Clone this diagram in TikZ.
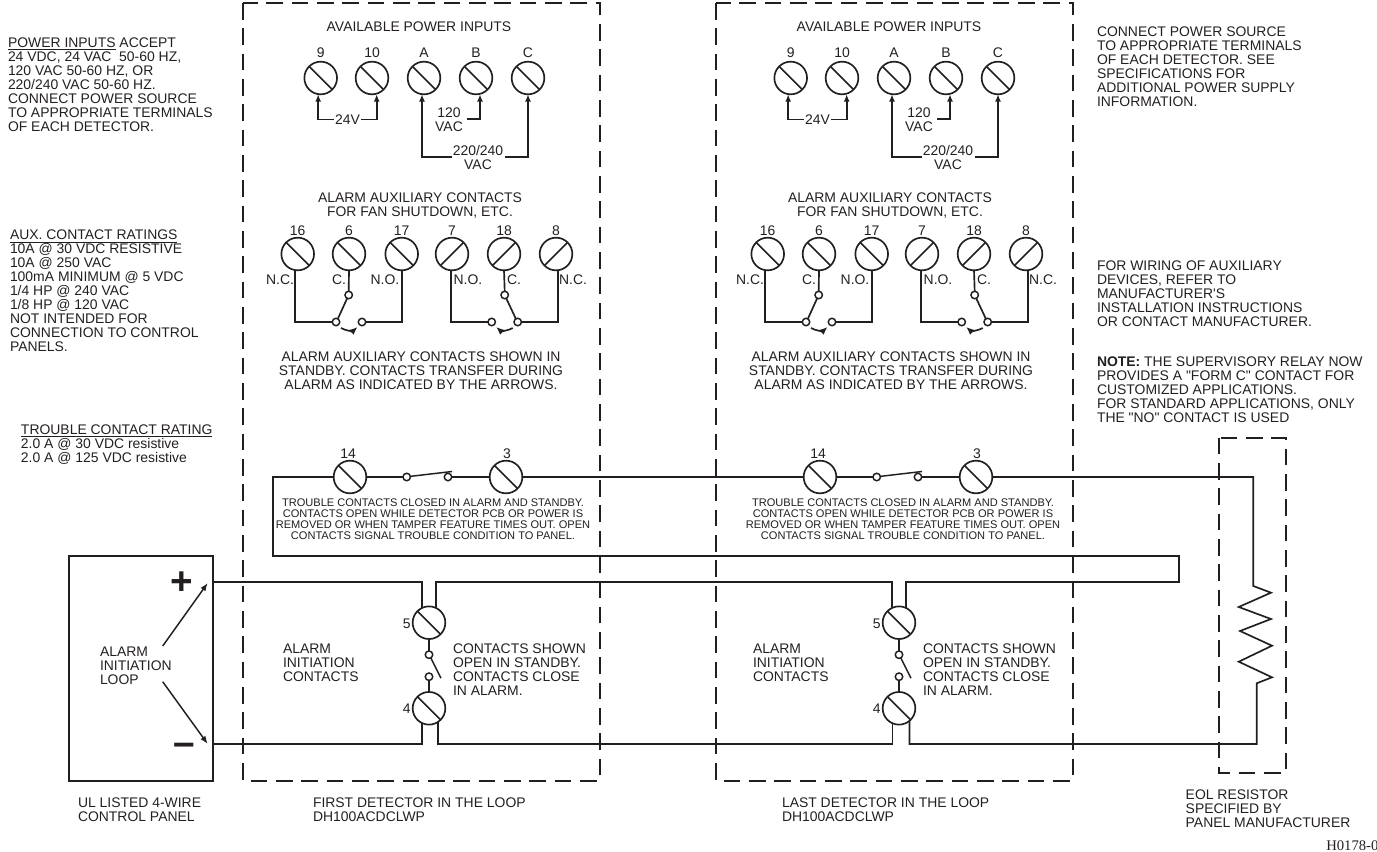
\documentclass[tikz,border=0pt]{standalone}
\usepackage{fontspec}
\setmainfont[Ligatures=TeXOff]{Liberation Sans}
\newfontfamily\serifcode{Liberation Serif}
\usetikzlibrary{arrows.meta,calc}
\definecolor{ink}{HTML}{231F20}
\lineskiplimit=-20pt
\newcommand{\fnorm}{\fontsize{10.45}{10.5}\selectfont\lineskiplimit=-20pt\relax}
\newcommand{\fsmall}{\fontsize{8.3}{8.25}\selectfont\lineskiplimit=-20pt\relax}
\newcommand{\dq}{\char34\relax}
\newcommand{\sq}{\char39\relax}
\tikzset{
  wire/.style={draw=ink,line width=1.25pt,line join=miter},
  thinw/.style={draw=ink,line width=1.1pt},
  feed/.style={wire,-{Latex[length=5.5pt,width=4.5pt]}},
  swing/.style={wire,-{Latex[length=6pt,width=5pt]}},
  dashbox/.style={draw=ink,line width=1.25pt,dash pattern=on 12.5pt off 6.5pt},
  screwbase/.style={circle,draw=ink,line width=1.25pt,minimum size=24.5pt,inner sep=0pt,outer sep=0pt},
  screwa/.style={screwbase,path picture={\draw[ink,line width=1.25pt] (path picture bounding box.north west) -- (path picture bounding box.south east);}},
  screwb/.style={screwbase,path picture={\draw[ink,line width=1.25pt] (path picture bounding box.south west) -- (path picture bounding box.north east);}},
  contact/.style={circle,draw=ink,line width=1.1pt,minimum size=5.6pt,inner sep=0pt,outer sep=0pt},
  txt/.style={text=ink,inner sep=0pt,outer sep=0pt,font=\fnorm,yshift=-0.5pt},
  tl/.style={txt,anchor=north west,align=left},
  tc/.style={txt,anchor=north,align=center},
  tinytxt/.style={text=ink,inner sep=0pt,outer sep=0pt,anchor=north,align=center,font=\fsmall,yshift=-0.5pt},
}
\newcommand{\detectorunit}[1]{%
  % power inputs
  \node[txt] (titlepower#1) at (419,26) {AVAILABLE POWER INPUTS};
  \foreach \nm/\xx in {9/320.7,10/372,A/424,B/476,C/528}{
    \node[screwa] (t\nm#1) at (\xx,78) {};
    \node[txt] (n\nm#1) at (\xx,52) {\nm};
  }
  \node[txt] (v24#1) at (347.5,119) {24V};
  \node[tc] (v120#1) at (449,107) {120\\VAC};
  \node[tc] (v220#1) at (478,145) {220/240\\VAC};
  \coordinate (vl#1) at (452,157);
  \coordinate (vr#1) at (505,157);
  \coordinate (vb#1) at (467,119);
  \draw[feed] ([xshift=-1pt]v24#1.west) -| ([xshift=-1.9pt]t9#1.south);
  \draw[feed] ([xshift=1pt]v24#1.east) -| ([xshift=3.5pt]t10#1.south);
  \draw[feed] (vb#1) -| ([xshift=3pt]tB#1.south);
  \draw[feed] (vl#1) -| ([xshift=-1.5pt]tA#1.south);
  \draw[feed] (vr#1) -| (tC#1.south);
  % aux contacts
  \node[tc] (titleaux#1) at (420,192) {ALARM AUXILIARY CONTACTS\\FOR FAN SHUTDOWN, ETC.};
  \foreach \nm/\xx in {16/297.7,6/349,17/401.7}{
    \node[screwa] (t\nm#1) at (\xx,254) {};
    \node[txt] (n\nm#1) at (\xx,230) {\nm};
  }
  \foreach \nm/\xx in {7/452,18/504,8/556}{
    \node[screwb] (t\nm#1) at (\xx,254) {};
    \node[txt] (n\nm#1) at (\xx,230) {\nm};
  }
  \node[txt] (lnc#1) at (280,279) {N.C.};
  \node[txt] (lcc#1) at (339,279) {C.};
  \node[txt] (lno#1) at (385,279) {N.O.};
  \node[txt] (rno#1) at (468,279) {N.O.};
  \node[txt] (rcc#1) at (514,279) {C.};
  \node[txt] (rnc#1) at (573,279) {N.C.};
  \node[contact] (la#1) at (336,322) {};
  \node[contact] (lb#1) at (362,322) {};
  \node[contact] (lc#1) at (348.7,295) {};
  \node[contact] (ra#1) at (491.7,322) {};
  \node[contact] (rb#1) at (517.7,322) {};
  \node[contact] (rc#1) at (504.7,295) {};
  \draw[wire] ([xshift=-2pt]t16#1.south) |- (la#1.west);
  \draw[wire] (t6#1.south) -- (lc#1.north);
  \draw[wire] (lb#1.east) -| (t17#1.south);
  \draw[wire] (lc#1.-115) -- (la#1.60);
  \draw[swing] ($(la#1)+(5,6)$) .. controls ($(la#1)+(10,9)$) and ($(lb#1)+(-9,9)$) .. ($(lb#1)+(-4.5,5)$);
  \draw[wire] ([xshift=-1pt]t7#1.south) |- (ra#1.west);
  \draw[wire] (t18#1.south) -- (rc#1.north);
  \draw[wire] (rb#1.east) -| ([xshift=1.5pt]t8#1.south);
  \draw[wire] (rc#1.-65) -- (rb#1.120);
  \draw[swing] ($(rb#1)+(-5,6)$) .. controls ($(rb#1)+(-10,9)$) and ($(ra#1)+(9,9)$) .. ($(ra#1)+(4.5,5)$);
  \node[tc] (stand#1) at (421,351.5) {ALARM AUXILIARY CONTACTS SHOWN IN\\STANDBY. CONTACTS TRANSFER DURING\\ALARM AS INDICATED BY THE ARROWS.};
  % trouble
  \node[screwa] (t14#1) at (350,477) {};
  \node[screwa] (t3#1) at (506,477) {};
  \node[txt] (n14#1) at (348,453) {14};
  \node[txt] (n3#1) at (507,453) {3};
  \node[contact] (sa#1) at (406.7,477) {};
  \node[contact] (sb#1) at (448,477) {};
  \draw[wire] (t14#1.east) -- (sa#1.west);
  \draw[wire] (sb#1.east) -- (t3#1.west);
  \draw[thinw] (sa#1.10) -- ($(sb#1)+(4,-5.5)$);
  \node[tinytxt] (tnote#1) at (433,498.5) {TROUBLE CONTACTS CLOSED IN ALARM AND STANDBY.\\CONTACTS OPEN WHILE DETECTOR PCB OR POWER IS\\REMOVED OR WHEN TAMPER FEATURE TIMES OUT. OPEN\\CONTACTS SIGNAL TROUBLE CONDITION TO PANEL.};
  % alarm contacts
  \node[screwa] (t5#1) at (429,622.7) {};
  \node[screwa] (t4#1) at (429,708.3) {};
  \node[txt] (n5#1) at (406.7,623) {5};
  \node[txt] (n4#1) at (406.7,708.5) {4};
  \node[contact] (ua#1) at (429,654.7) {};
  \node[contact] (ub#1) at (429,676.7) {};
  \draw[wire] (t5#1.south) -- (ua#1.north);
  \draw[wire] (t4#1.north) -- (ub#1.south);
  \draw[thinw] (ua#1.-60) -- ($(ub#1)+(12,1.5)$);
  \node[tl] (alarmc#1) at (283,643) {ALARM\\INITIATION\\CONTACTS};
  \node[tl] (shown#1) at (453,643) {CONTACTS SHOWN\\OPEN IN STANDBY.\\CONTACTS CLOSE\\IN ALARM.};
}
\begin{document}
\begin{tikzpicture}[x=0.75pt,y=-0.75pt]
\useasboundingbox (0,0) rectangle (1377,852);
% dashed enclosures
\draw[dashbox] (243,3) rectangle (600,780.7);
\draw[dashbox] (716,3) rectangle (1073,780.7);
\draw[dashbox] (1219.3,437.7) rectangle (1285.7,773);
% detectors
\detectorunit{a}
\begin{scope}[shift={(470,0)}]
\detectorunit{b}
\end{scope}
% control panel
\node[draw=ink,line width=1.25pt,minimum width=107.7pt,minimum height=168.5pt,inner sep=0pt,outer sep=0pt,anchor=north west] (panel) at (69.3,556) {};
\node[tl] (loop) at (100,646.7) {ALARM\\INITIATION\\LOOP};
\node[text=ink,inner sep=0pt,font=\fontsize{29}{29}\selectfont\bfseries] (plus) at (182,583) {+};
\node[text=ink,inner sep=0pt,font=\fontsize{29}{29}\selectfont\bfseries] (minus) at (184,749) {–};
\coordinate (ltop) at (162.7,646);
\coordinate (lbot) at (162.7,681.7);
\coordinate (ptip) at (207.7,583);
\coordinate (mtip) at (207.7,744);
\draw[thinw,-{Latex[length=6pt,width=4.5pt]}] (ltop) -- (ptip);
\draw[thinw,-{Latex[length=6pt,width=4.5pt]}] (lbot) -- (mtip);
% wiring
\coordinate (ytop) at (0,582);
\coordinate (ybot) at (0,744);
\coordinate (rlt) at (1178.7,582);
\coordinate (rlb) at (1178.7,556);
\coordinate (ll) at (273,556);
\coordinate (llt) at (273,477);
\draw[wire] (panel.east |- ytop) -| (t5a.115);
\draw[wire] (t5a.65) -- (t5a.65 |- ytop) -- (t5b.115 |- ytop) -- (t5b.115);
\draw[wire] (t5b.65) -- (t5b.65 |- ytop) -- (rlt) -- (rlb) -- (ll) -- (llt) -- (t14a.west);
\draw[wire] (panel.east |- ybot) -- (t4a.-115 |- ybot) -- (t4a.-115);
\draw[wire] (t4a.-57) -- (t4a.-57 |- ybot) -- (t4b.-113 |- ybot) -- (t4b.-113);
\draw[wire] (t3a.east) -- (t14b.west);
\coordinate (r1) at (1253.3,586);
\coordinate (r9) at (1256.7,683.3);
\coordinate (r10) at (1256.7,744);
\draw[wire] (t3b.east) -- (t3b.east -| r1) -- (r1) -- (1271,592.7) -- (1238.7,607) -- (1271,619) -- (1240,631) -- (1272,645.7) -- (1238.7,661.7) -- (1272,677.3) -- (r9) -- (r10) -- (t4b.-50 |- r10) -- (t4b.-50);
% side notes
\node[tl] (n1) at (8,37) {\underline{POWER INPUTS} ACCEPT\\24 VDC, 24 VAC\ \ 50-60 HZ,\\120 VAC 50-60 HZ, OR\\220/240 VAC 50-60 HZ.\\CONNECT POWER SOURCE\\TO APPROPRIATE TERMINALS\\OF EACH DETECTOR.};
\node[tl] (n2) at (10,229.5) {\underline{AUX. CONTACT RATINGS}\\10A @ 30 VDC RESISTIVE\\10A @ 250 VAC\\100mA MINIMUM @ 5 VDC\\1/4 HP @ 240 VAC\\1/8 HP @ 120 VAC\\NOT INTENDED FOR\\CONNECTION TO CONTROL\\PANELS.};
\node[tl] (n3) at (21,424) {\underline{TROUBLE CONTACT RATING}\\2.0 A @ 30 VDC resistive\\2.0 A @ 125 VDC resistive};
\node[tl] (n4) at (1097,26.5) {CONNECT POWER SOURCE\\TO APPROPRIATE TERMINALS\\OF EACH DETECTOR. SEE\\SPECIFICATIONS FOR\\ADDITIONAL POWER SUPPLY\\INFORMATION.};
\node[tl] (n5) at (1097,260.5) {FOR WIRING OF AUXILIARY\\DEVICES, REFER TO\\MANUFACTURER\sq S\\INSTALLATION INSTRUCTIONS\\OR CONTACT MANUFACTURER.};
\node[tl] (n6) at (1097,356.5) {\textbf{NOTE:} THE SUPERVISORY RELAY NOW\\PROVIDES A \dq FORM C\dq{} CONTACT FOR\\CUSTOMIZED APPLICATIONS.\\FOR STANDARD APPLICATIONS, ONLY\\THE \dq NO\dq{} CONTACT IS USED};
\node[tl] (b1) at (78,797) {UL LISTED 4-WIRE\\CONTROL PANEL};
\node[tl] (b2) at (313,797) {FIRST DETECTOR IN THE LOOP\\DH100ACDCLWP};
\node[tl] (b3) at (782,797) {LAST DETECTOR IN THE LOOP\\DH100ACDCLWP};
\node[tl] (b4) at (1185.7,789) {EOL RESISTOR\\SPECIFIED BY\\PANEL MANUFACTURER};
\node[text=ink,inner sep=0pt,anchor=west,font=\serifcode\fontsize{11}{11}\selectfont] (code) at (1326,846) {H0178-0};
\end{tikzpicture}
\end{document}
